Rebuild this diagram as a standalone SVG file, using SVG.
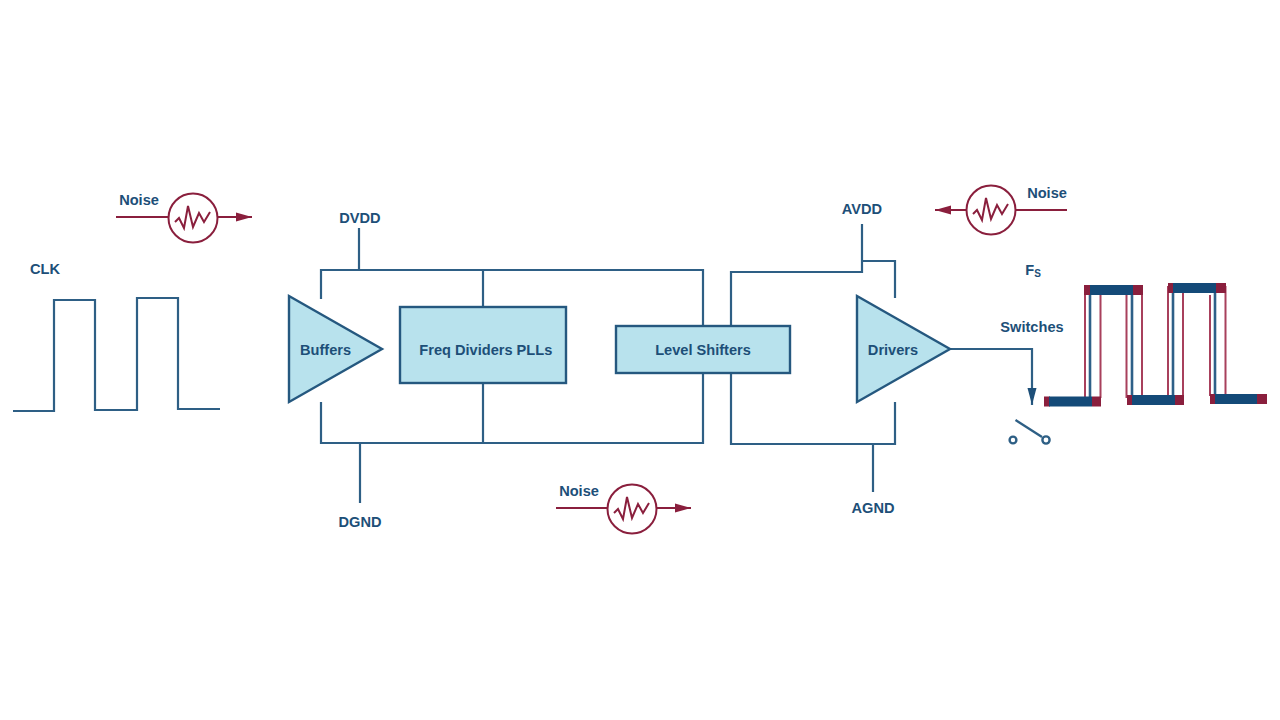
<svg xmlns="http://www.w3.org/2000/svg" width="1280" height="720" viewBox="0 0 1280 720">
<defs>
<marker id="redArrow" markerUnits="userSpaceOnUse" markerWidth="17" markerHeight="10" refX="16" refY="5" orient="auto"><path d="M0 0.500L16 5L0 9.500Z" fill="#8a1f3d"/></marker>
<marker id="blueArrow" markerUnits="userSpaceOnUse" markerWidth="18" markerHeight="10" refX="17" refY="5" orient="auto"><path d="M0 0.500L17 5L0 9.500Z" fill="#1d4f78"/></marker>
<g id="noiseSym">
<circle cx="0" cy="0" r="24.5" class="noise"/>
<path d="M-18 4L-14 0L-9 10L-5 -12L0 9L6 -5L11 4L17 -6" class="noise"/>
</g>
</defs>
<style>
text{font-family:"Liberation Sans",Arial,sans-serif;font-size:14.6px;font-weight:700;fill:#1d4f78;text-anchor:middle}
.wire{fill:none;stroke:#2e5f85;stroke-width:2.2}
.shape{fill:#b8e2ed;stroke:#25587f;stroke-width:2.4}
.noise{fill:none;stroke:#8a1f3d;stroke-width:2}
.noiseline{fill:none;stroke:#8a1f3d;stroke-width:2}
.sw{fill:#fff;stroke:#2e5f85;stroke-width:2.4}
.rl{fill:none;stroke:#a8405c;stroke-width:2}
.bl{fill:none;stroke:#2e6088;stroke-width:2.6}
.rb{fill:#8a1f3d}
.bb{fill:#144a78}
</style>
<rect width="1280" height="720" fill="#fff"/>

<g id="connectors">
<path class="wire" d="M13 411H54V300H95V410H137V298H178V409H220"/>
<path class="wire" d="M359 228V270"/>
<path class="wire" d="M321 299V270H703V326"/>
<path class="wire" d="M483 270V307"/>
<path class="wire" d="M321 402V443H703V373"/>
<path class="wire" d="M483 383V443"/>
<path class="wire" d="M360 443V503"/>
<path class="wire" d="M862 224V272H731V326"/>
<path class="wire" d="M862 261H895V298"/>
<path class="wire" d="M731 373V444H895V402"/>
<path class="wire" d="M873 444V492"/>
<path class="wire" d="M950 349H1032V405" marker-end="url(#blueArrow)"/>
</g>

<g id="clk-label"><text x="45" y="274">CLK</text></g>

<g id="buffers">
<path class="shape" d="M289 296L382 349L289 402Z"/>
<text x="325.500" y="355">Buffers</text>
</g>
<g id="freq-dividers">
<rect class="shape" x="400" y="307" width="166" height="76"/>
<text x="485.800" y="355">Freq Dividers PLLs</text>
</g>
<g id="level-shifters">
<rect class="shape" x="616" y="326" width="174" height="47"/>
<text x="703" y="355">Level Shifters</text>
</g>
<g id="drivers">
<path class="shape" d="M857 296L950 349L857 402Z"/>
<text x="893" y="355">Drivers</text>
</g>

<g id="dvdd"><text x="360" y="223">DVDD</text></g>
<g id="dgnd"><text x="360" y="527">DGND</text></g>
<g id="avdd"><text x="862" y="214">AVDD</text></g>
<g id="agnd"><text x="873" y="513">AGND</text></g>

<g id="noise-1">
<text x="139" y="205">Noise</text>
<path class="noiseline" d="M116 217H168M218 217H252" marker-end="url(#redArrow)"/>
<use href="#noiseSym" x="193" y="218"/>
</g>
<g id="noise-2">
<text x="1047" y="198">Noise</text>
<path class="noiseline" d="M1067 210H1016M967 210H935" marker-end="url(#redArrow)"/>
<use href="#noiseSym" x="991" y="210"/>
</g>
<g id="noise-3">
<text x="579" y="496">Noise</text>
<path class="noiseline" d="M556 508H608M657 508H691" marker-end="url(#redArrow)"/>
<use href="#noiseSym" x="632" y="509"/>
</g>

<g id="fs-label"><text x="1033" y="275">F<tspan font-size="10" dy="2">S</tspan></text></g>
<g id="switches-label"><text x="1032" y="332">Switches</text></g>

<g id="switch">
<path class="wire" d="M1015.500 420L1042 437"/>
<circle class="sw" cx="1013" cy="440" r="3.400"/>
<circle class="sw" cx="1046" cy="440" r="3.600"/>
</g>

<g id="fs-wave">
<path class="rl" d="M1085 288V398M1100.500 290V398M1126.500 295V398M1142 288V396M1168 286V396M1183 290V396M1210 295V396M1225.500 286V394"/>
<path class="bl" d="M1090 290V398M1132 290V396M1173 288V396M1215 288V394"/>
<rect class="rb" x="1044" y="396.500" width="6" height="10"/>
<rect class="bb" x="1049" y="396.500" width="43" height="10"/>
<rect class="rb" x="1092" y="396.500" width="9" height="10"/>
<rect class="rb" x="1127" y="395" width="5" height="10"/>
<rect class="bb" x="1132" y="395" width="43" height="10"/>
<rect class="rb" x="1175" y="395" width="9" height="10"/>
<rect class="rb" x="1210" y="394" width="5" height="10"/>
<rect class="bb" x="1215" y="394" width="42" height="10"/>
<rect class="rb" x="1257" y="394" width="10" height="10"/>
<rect class="rb" x="1084" y="285" width="6" height="10"/>
<rect class="bb" x="1090" y="285" width="43" height="10"/>
<rect class="rb" x="1133" y="285" width="10" height="10"/>
<rect class="rb" x="1168" y="283" width="5" height="10"/>
<rect class="bb" x="1173" y="283" width="43" height="10"/>
<rect class="rb" x="1216" y="283" width="10" height="10"/>
</g>
</svg>
